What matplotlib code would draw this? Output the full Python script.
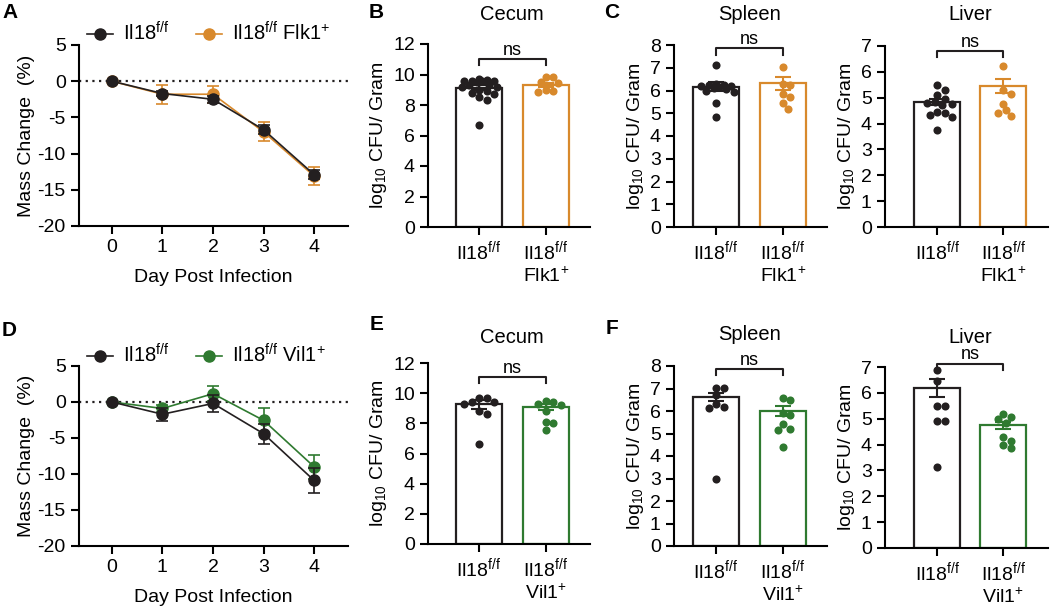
import numpy as np
import matplotlib
matplotlib.use('Agg')
import matplotlib.pyplot as plt
from matplotlib import transforms

plt.rcParams['font.family'] = ['Liberation Sans', 'DejaVu Sans']
plt.rcParams['mathtext.fontset'] = 'custom'
plt.rcParams['mathtext.rm'] = 'Liberation Sans'
plt.rcParams['mathtext.it'] = 'Liberation Sans:italic'
plt.rcParams['mathtext.bf'] = 'Liberation Sans:bold'
plt.rcParams['mathtext.default'] = 'regular'
plt.rcParams['axes.unicode_minus'] = False
plt.rcParams['font.size'] = 14
plt.rcParams['axes.linewidth'] = 1.5

BLACK = '#231f20'
ORANGE = '#d8892c'
GREEN = '#2f7a30'
FS = 14

# ---- mass change (A, D) ----
days = [0, 1, 2, 3, 4]
a_ctrl = [0, -1.7, -2.5, -6.7, -12.9]
a_ctrl_err = [0, 0.4, 0.5, 0.6, 0.6]
a_flk = [0, -1.8, -1.8, -7.0, -13.1]
a_flk_err = [0, 1.3, 1.15, 1.3, 1.2]

d_ctrl = [0, -1.7, -0.2, -4.4, -10.9]
d_ctrl_err = [0, 0.9, 1.2, 1.4, 1.8]
d_vil = [0, -0.9, 1.15, -2.55, -9.0]
d_vil_err = [0, 0.5, 1.05, 1.75, 1.7]

# ---- CFU (B, C, E, F) ----
ctrl_name = 'Il18$^{f/f}$'
flk_name = 'Il18$^{f/f}$\nFlk1$^{+}$'
vil_name = 'Il18$^{f/f}$\nVil1$^{+}$'

b_ctrl = [9.7, 9.65, 9.6, 9.6, 9.6, 9.55, 9.5, 9.3, 9.3, 9.2, 9.2, 9.0, 8.9, 8.8, 8.7, 8.5, 8.3, 6.7]
b_flk = [9.85, 9.85, 9.5, 9.45, 8.95, 8.85, 9.0]
b_mean = [9.14, 9.32]
b_sem = [0.15, 0.14]

cs_ctrl = [7.12, 6.3, 6.25, 6.25, 6.2, 6.2, 6.15, 6.1, 6.05, 6.0, 5.95, 5.43, 4.85]
cs_flk = [7.02, 6.29, 6.24, 5.85, 5.73, 5.43, 5.17]
cs_mean = [6.17, 6.31]
cs_sem = [0.19, 0.27]

cl_ctrl = [5.48, 5.29, 5.09, 4.96, 4.83, 4.8, 4.77, 4.7, 4.45, 4.41, 4.32, 4.25, 3.74]
cl_flk = [6.23, 5.31, 5.16, 4.77, 4.51, 4.41, 4.28]
cl_mean = [4.83, 5.45]
cl_sem = [0.12, 0.28]

e_ctrl = [9.68, 9.68, 9.4, 9.39, 9.3, 8.79, 8.64, 6.65]
e_vil = [9.46, 9.39, 9.3, 9.24, 8.79, 8.06, 8.02, 7.53]
e_mean = [9.28, 9.06]
e_sem = [0.3, 0.2]

fs_ctrl = [7.04, 7.04, 6.7, 6.3, 6.18, 6.15, 3.0]
fs_vil = [6.6, 6.48, 5.89, 5.81, 5.44, 5.22, 5.15, 4.41]
fs_mean = [6.63, 6.0]
fs_sem = [0.18, 0.22]

fl_ctrl = [6.9, 6.44, 5.5, 5.5, 4.92, 4.92, 3.14]
fl_vil = [5.19, 5.08, 4.98, 4.83, 4.28, 4.15, 3.99, 3.86]
fl_mean = [6.19, 4.74]
fl_sem = [0.35, 0.15]

W, H = 1050, 611
fig = plt.figure(figsize=(W / 100, H / 100), dpi=100)


def box(l, t, r, b):
    return [l / W, 1 - b / H, (r - l) / W, (b - t) / H]


def style(ax):
    ax.spines['top'].set_visible(False)
    ax.spines['right'].set_visible(False)
    ax.tick_params(direction='out', length=6, width=1.5, labelsize=FS)


def line_panel(rect, ctrl, ctrl_err, ko, ko_err, col, ko_label, leg_y):
    ax = fig.add_axes(rect)
    style(ax)
    ax.axhline(0, color=BLACK, ls=(0, (1, 2)), lw=1.6, zorder=1)
    ax.errorbar(days, ko, yerr=ko_err, fmt='none', ecolor=col, elinewidth=1.2,
                capsize=4.5, capthick=1.2, zorder=2)
    h2, = ax.plot(days, ko, color=col, marker='o', ms=8, lw=1.2, zorder=3)
    ax.errorbar(days, ctrl, yerr=ctrl_err, fmt='none', ecolor=BLACK, elinewidth=1.2,
                capsize=4.5, capthick=1.2, zorder=4)
    h1, = ax.plot(days, ctrl, color=BLACK, marker='o', ms=8, lw=1.2, zorder=5)
    ax.set_xlim(-0.65, 4.67)
    ax.set_ylim(-20, 5)
    ax.set_xticks(days)
    ax.set_yticks([5, 0, -5, -10, -15, -20])
    ax.set_xlabel('Day Post Infection', fontsize=FS, labelpad=9)
    ax.set_ylabel('Mass Change  (%)', fontsize=FS, labelpad=2)
    ax.legend([h1, h2], [ctrl_name, ko_label], loc='center left',
              bbox_to_anchor=(0.03, leg_y), ncol=2, frameon=False, fontsize=14.5,
              handlelength=1.3, handletextpad=0.5, columnspacing=1.3,
              borderpad=0, borderaxespad=0)
    return ax


def swarm(ax, xc, vals, d, maxoff):
    vals = np.asarray(vals, dtype=float)
    ypix = ax.transData.transform(np.column_stack([np.full(len(vals), xc), vals]))[:, 1]
    ppu = ax.transData.transform((xc + 1, 0))[0] - ax.transData.transform((xc, 0))[0]
    lim = maxoff * ppu
    steps = [0.0]
    k = 1
    while k * d / 3 <= lim:
        steps += [k * d / 3, -k * d / 3]
        k += 1
    placed = []
    offs = np.zeros(len(vals))
    for i in np.argsort(-vals):
        best, bestgap = 0.0, -1
        for s in steps:
            gap = min([np.hypot(s - px, ypix[i] - py) for px, py in placed] or [1e9])
            if gap >= 0.95 * d:
                best = s
                break
            if gap > bestgap:
                best, bestgap = s, gap
        placed.append((best, ypix[i]))
        offs[i] = best / ppu
    return xc + offs


def bar_panel(rect, xlim, ymax, groups, means, sems, cols, labels, title, title_y,
              br_top, br_leg):
    ax = fig.add_axes(rect)
    style(ax)
    ax.set_xlim(*xlim)
    ax.set_ylim(0, ymax)
    ax.set_yticks(range(0, ymax + 1, 2 if ymax > 10 else 1))
    xs = [0, 1]
    ax.bar(xs, means, width=0.69, color='white', edgecolor=cols, linewidth=1.6, zorder=2)
    for x, pts, c in zip(xs, groups, cols):
        ax.scatter(swarm(ax, x, pts, 7.5, 0.27), pts, s=34, color=c, linewidths=0,
                   zorder=3, clip_on=False)
    for x, m, e, c in zip(xs, means, sems, cols):
        ax.errorbar([x], [m], yerr=[e], fmt='none', ecolor=c, elinewidth=1.5,
                    capsize=6, capthick=1.5, zorder=4)
    ax.set_xticks(xs)
    ax.set_xticklabels(labels, fontsize=FS)
    ax.tick_params(axis='x', pad=3)
    ax.set_ylabel('log$_{10}$ CFU/ Gram', fontsize=FS, labelpad=3)
    ax.plot([0, 0, 1, 1], [br_leg, br_top, br_top, br_leg], color=BLACK, lw=1.5,
            clip_on=False, zorder=5)
    ax.annotate('ns', xy=(0.5, br_top), xytext=(0, 3), textcoords='offset points',
                ha='center', va='baseline', fontsize=13, annotation_clip=False)
    tr = transforms.blended_transform_factory(ax.transData, fig.transFigure)
    ax.text(0.5, 1 - title_y / H, title, transform=tr, ha='center', va='center',
            fontsize=14.5)
    return ax


line_panel(box(79, 45, 348, 226), a_ctrl, a_ctrl_err, a_flk, a_flk_err, ORANGE,
           'Il18$^{f/f}$ Flk1$^{+}$', 1.066)
line_panel(box(79, 366, 348, 546), d_ctrl, d_ctrl_err, d_vil, d_vil_err, GREEN,
           'Il18$^{f/f}$ Vil1$^{+}$', 1.059)

bar_panel(box(428, 44, 590, 227), (-0.765, 1.664), 12, [b_ctrl, b_flk], b_mean, b_sem,
          [BLACK, ORANGE], [ctrl_name, flk_name], 'Cecum', 15, 11.0, 10.6)
bar_panel(box(674, 45, 827, 227), (-0.63, 1.664), 8, [cs_ctrl, cs_flk], cs_mean, cs_sem,
          [BLACK, ORANGE], [ctrl_name, flk_name], 'Spleen', 15, 7.86, 7.56)
bar_panel(box(885, 46, 1048, 227), (-0.79, 1.677), 7, [cl_ctrl, cl_flk], cl_mean, cl_sem,
          [BLACK, ORANGE], [ctrl_name, flk_name], 'Liver', 15, 6.8, 6.57)

bar_panel(box(428, 363, 590, 544), (-0.765, 1.664), 12, [e_ctrl, e_vil], e_mean, e_sem,
          [BLACK, GREEN], [ctrl_name, vil_name], 'Cecum', 337, 11.05, 10.7)
bar_panel(box(674, 366, 827, 546), (-0.63, 1.664), 8, [fs_ctrl, fs_vil], fs_mean, fs_sem,
          [BLACK, GREEN], [ctrl_name, vil_name], 'Spleen', 335, 7.85, 7.59)
bar_panel(box(885, 367, 1048, 548), (-0.79, 1.677), 7, [fl_ctrl, fl_vil], fl_mean, fl_sem,
          [BLACK, GREEN], [ctrl_name, vil_name], 'Liver', 337, 7.13, 6.9)

for letter, x, y in [('A', 10, 13), ('B', 376, 12), ('C', 612, 12),
                     ('D', 9, 330), ('E', 377, 325), ('F', 612, 328)]:
    fig.text(x / W, 1 - y / H, letter, fontsize=15, fontweight='bold', ha='center',
             va='center')

fig.savefig('out.png', dpi=100)
